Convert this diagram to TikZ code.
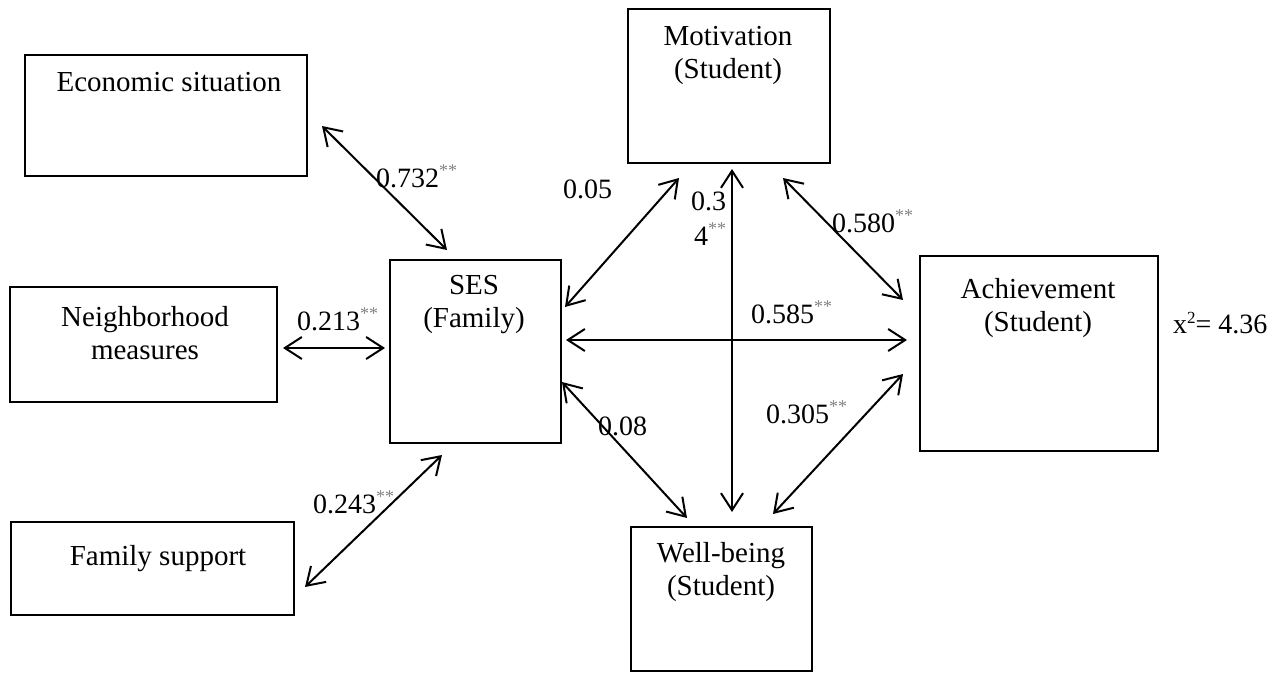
\documentclass[tikz,border=0pt]{standalone}
\usepackage{fontspec}
\setmainfont{Liberation Serif}
\usetikzlibrary{arrows.meta}
\newcommand{\sig}{\raisebox{11pt}{\fontsize{18}{18}\selectfont\color{gray}**}}
\newcommand{\sqsup}{\raisebox{10pt}{\fontsize{17}{17}\selectfont 2}}
\begin{document}
\begin{tikzpicture}[x=1pt,y=-1pt,
  box/.style={draw, line width=1.5pt, rectangle, inner sep=0pt, anchor=north west},
  boxtext/.style={font=\fontsize{29}{33.5}\selectfont, align=center, inner sep=0pt, anchor=north},
  lab/.style={font=\fontsize{28}{33}\selectfont, inner sep=0pt, anchor=base west},
  link/.style={line width=2pt, {Straight Barb[length=17pt,width=22pt]}-{Straight Barb[length=17pt,width=22pt]}}]
\useasboundingbox (0,0) rectangle (1287,672);
% boxes
\node[box, minimum width=282pt, minimum height=121pt] (econ) at (24,54) {};
\node[box, minimum width=267pt, minimum height=115pt] (neigh) at (9,286) {};
\node[box, minimum width=283pt, minimum height=93pt] (fam) at (10,521) {};
\node[box, minimum width=171pt, minimum height=183pt] (ses) at (389,259) {};
\node[box, minimum width=202pt, minimum height=154pt] (mot) at (627,8) {};
\node[box, minimum width=238pt, minimum height=195pt] (ach) at (919,255) {};
\node[box, minimum width=181pt, minimum height=144pt] (well) at (630,526) {};
% box texts
\node[boxtext] (econT) at (169,72) {Economic situation};
\node[boxtext] (neighT) at (145,306) {Neighborhood\\measures};
\node[boxtext] (famT) at (158,545) {Family support};
\node[boxtext] (sesT) at (474,275) {SES\\(Family)};
\node[boxtext] (motT) at (728,26) {Motivation\\(Student)};
\node[boxtext] (achT) at (1038,278) {Achievement\\(Student)};
\node[boxtext] (wellT) at (721,542) {Well-being\\(Student)};
% arrow end points
\coordinate (e1) at (322,126); \coordinate (e2) at (447,250);
\coordinate (n1) at (283,348); \coordinate (n2) at (385,348);
\coordinate (f1) at (305,587); \coordinate (f2) at (442,455);
\coordinate (m1) at (565,307); \coordinate (m2) at (679,178);
\coordinate (v1) at (732,169); \coordinate (v2) at (732,512);
\coordinate (h1) at (566,340); \coordinate (h2) at (907,340);
\coordinate (a1) at (783,178); \coordinate (a2) at (903,300);
\coordinate (w1) at (562,382); \coordinate (w2) at (687,518);
\coordinate (w3) at (903,374); \coordinate (w4) at (773,514);
\draw[link] (e1) -- (e2);
\draw[link] (n1) -- (n2);
\draw[link] (f1) -- (f2);
\draw[link] (m1) -- (m2);
\draw[link] (v1) -- (v2);
\draw[link] (h1) -- (h2);
\draw[link] (a1) -- (a2);
\draw[link] (w1) -- (w2);
\draw[link] (w3) -- (w4);
% labels
\node[lab] (l732) at (376,187) {0.732\sig};
\node[lab] (l213) at (297,330) {0.213\sig};
\node[lab] (l243) at (313,513) {0.243\sig};
\node[lab] (l05) at (563,198) {0.05};
\node[lab] (l03) at (691,210) {0.3};
\node[lab] (l4) at (694,245) {4\sig};
\node[lab] (l580) at (832,232) {0.580\sig};
\node[lab] (l585) at (751,323) {0.585\sig};
\node[lab] (l305) at (766,423) {0.305\sig};
\node[lab] (l08) at (598,435) {0.08};
\node[lab] (chi) at (1173,333) {x\sqsup= 4.36};
\end{tikzpicture}
\end{document}
